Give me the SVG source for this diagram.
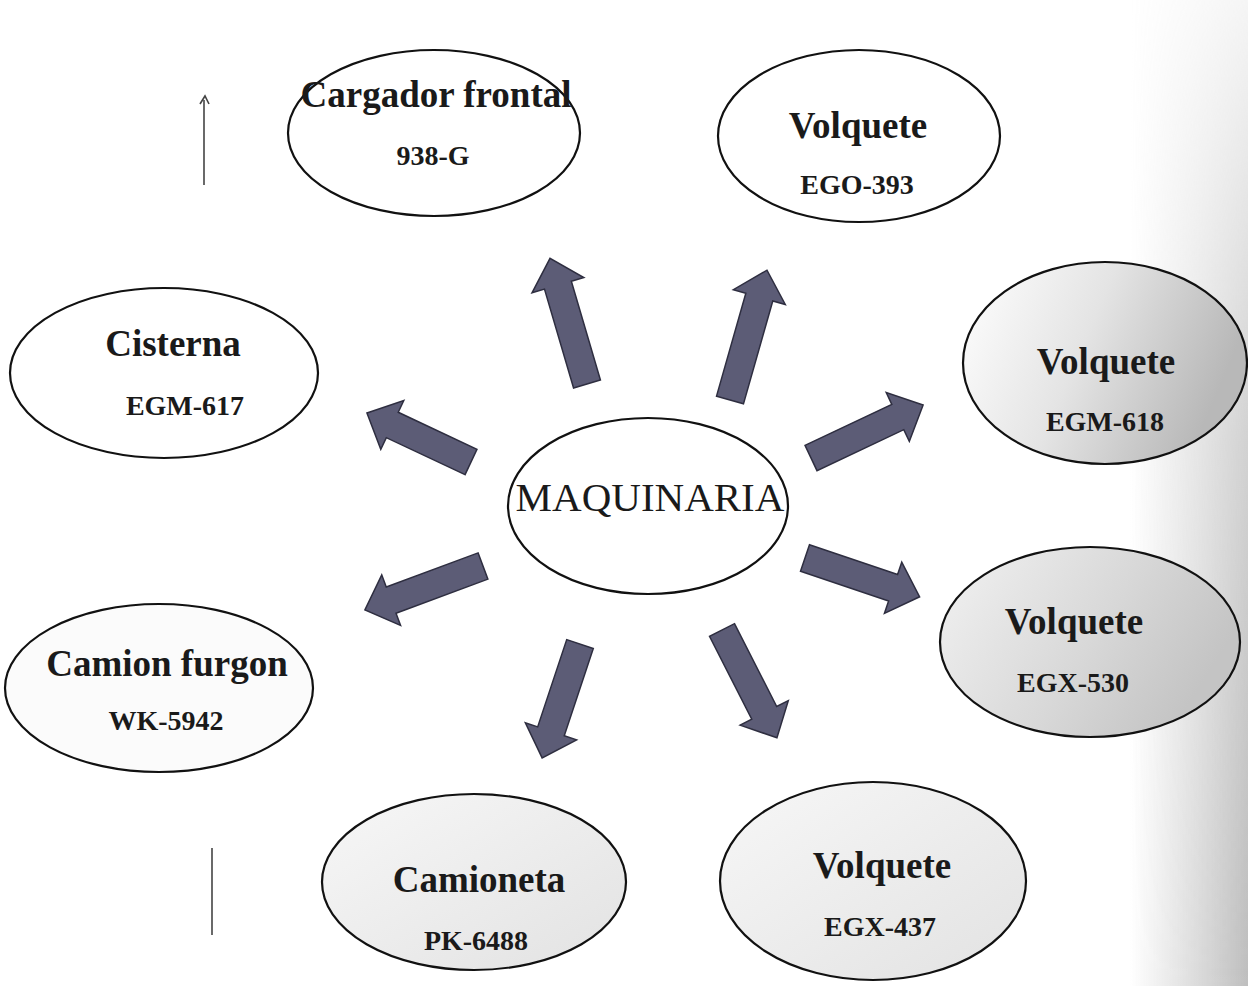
<svg xmlns="http://www.w3.org/2000/svg" width="1248" height="986" viewBox="0 0 1248 986">
<style>
.node{stroke:#111;stroke-width:2.2}
.t{font-family:"Liberation Serif","Times New Roman",serif;font-weight:bold;fill:#1a1a1a;text-anchor:middle}
.big{font-size:37px}
.sub{font-size:28px}
.main{font-family:"Liberation Serif","Times New Roman",serif;font-size:41px;fill:#1a1a1a;text-anchor:middle}
.arr{fill:#5c5c76;stroke:#2e2e40;stroke-width:1.5;stroke-linejoin:miter}
.mark{stroke:#444;stroke-width:1.6;fill:none}
</style>
<defs>
<linearGradient id="g618" x1="0" y1="0" x2="1" y2="0.3">
<stop offset="0" stop-color="#ffffff"/><stop offset="0.5" stop-color="#e4e4e4"/><stop offset="1" stop-color="#b8b8b8"/>
</linearGradient>
<linearGradient id="g530" x1="0" y1="0" x2="1" y2="0.4">
<stop offset="0" stop-color="#f2f2f2"/><stop offset="0.6" stop-color="#d8d8d8"/><stop offset="1" stop-color="#c4c4c4"/>
</linearGradient>
<linearGradient id="gLight" x1="0" y1="0" x2="1" y2="1">
<stop offset="0" stop-color="#f7f7f7"/><stop offset="1" stop-color="#e2e2e2"/>
</linearGradient>
<linearGradient id="gEdge" x1="0" y1="0" x2="1" y2="0">
<stop offset="0" stop-color="#b0b0b0" stop-opacity="0"/><stop offset="1" stop-color="#a8a8a8" stop-opacity="0.75"/>
</linearGradient>
<linearGradient id="gV" x1="0" y1="0" x2="0" y2="1">
<stop offset="0" stop-color="#fff" stop-opacity="0.15"/><stop offset="0.45" stop-color="#fff" stop-opacity="0.7"/><stop offset="1" stop-color="#fff" stop-opacity="1"/>
</linearGradient>
<mask id="mV"><rect x="1100" y="0" width="148" height="986" fill="url(#gV)"/></mask>
</defs>
<rect width="1248" height="986" fill="#ffffff"/>
<rect x="1130" y="0" width="118" height="986" fill="url(#gEdge)" mask="url(#mV)"/>
<g id="scan-marks">
<path class="mark" d="M204,100 V185"/>
<path class="mark" d="M200,104 L205,96 L209,104"/>
<path class="mark" d="M212,848 V935"/>
</g>
<g id="connectors">
<path class="arr" transform="translate(587,384) rotate(-106.4)" d="M0,-14 H103 V-27 L131,0 L103,27 V14 H0 Z"/>
<path class="arr" transform="translate(730,400) rotate(-74.1)" d="M0,-14 H107 V-27 L135,0 L107,27 V14 H0 Z"/>
<path class="arr" transform="translate(471,462) rotate(-154.8)" d="M0,-14 H87 V-27 L115,0 L87,27 V14 H0 Z"/>
<path class="arr" transform="translate(483,566) rotate(159.6)" d="M0,-14 H98 V-27 L126,0 L98,27 V14 H0 Z"/>
<path class="arr" transform="translate(811,458) rotate(-25.3)" d="M0,-14 H96 V-27 L124,0 L96,27 V14 H0 Z"/>
<path class="arr" transform="translate(805,558) rotate(18.7)" d="M0,-14 H93 V-27 L121,0 L93,27 V14 H0 Z"/>
<path class="arr" transform="translate(580,644) rotate(108.4)" d="M0,-14 H92 V-27 L120,0 L92,27 V14 H0 Z"/>
<path class="arr" transform="translate(722,630) rotate(63)" d="M0,-14 H93 V-27 L121,0 L93,27 V14 H0 Z"/>
</g>
<g id="maquinaria">
<ellipse class="node" cx="648" cy="506" rx="140" ry="88" fill="#ffffff"/>
<text class="main" x="650" y="511">MAQUINARIA</text>
</g>
<g id="cargador">
<ellipse class="node" cx="434" cy="133" rx="146" ry="83" fill="#ffffff"/>
<text class="t big" x="436" y="107">Cargador frontal</text>
<text class="t sub" x="433" y="165">938-G</text>
</g>
<g id="volquete-ego393">
<ellipse class="node" cx="859" cy="136" rx="141" ry="86" fill="#ffffff"/>
<text class="t big" x="858" y="138">Volquete</text>
<text class="t sub" x="857" y="194">EGO-393</text>
</g>
<g id="cisterna">
<ellipse class="node" cx="164" cy="373" rx="154" ry="85" fill="#ffffff"/>
<text class="t big" x="173" y="356">Cisterna</text>
<text class="t sub" x="185" y="415">EGM-617</text>
</g>
<g id="volquete-egm618">
<ellipse class="node" cx="1105" cy="363" rx="142" ry="101" fill="url(#g618)"/>
<text class="t big" x="1106" y="374">Volquete</text>
<text class="t sub" x="1105" y="431">EGM-618</text>
</g>
<g id="volquete-egx530">
<ellipse class="node" cx="1090" cy="642" rx="150" ry="95" fill="url(#g530)"/>
<text class="t big" x="1074" y="634">Volquete</text>
<text class="t sub" x="1073" y="692">EGX-530</text>
</g>
<g id="camion-furgon">
<ellipse class="node" cx="159" cy="688" rx="154" ry="84" fill="#fbfbfb"/>
<text class="t big" x="167" y="676">Camion furgon</text>
<text class="t sub" x="166" y="730">WK-5942</text>
</g>
<g id="camioneta">
<ellipse class="node" cx="474" cy="882" rx="152" ry="88" fill="url(#gLight)"/>
<text class="t big" x="479" y="892">Camioneta</text>
<text class="t sub" x="476" y="950">PK-6488</text>
</g>
<g id="volquete-egx437">
<ellipse class="node" cx="873" cy="881" rx="153" ry="99" fill="url(#gLight)"/>
<text class="t big" x="882" y="878">Volquete</text>
<text class="t sub" x="880" y="936">EGX-437</text>
</g>
</svg>
